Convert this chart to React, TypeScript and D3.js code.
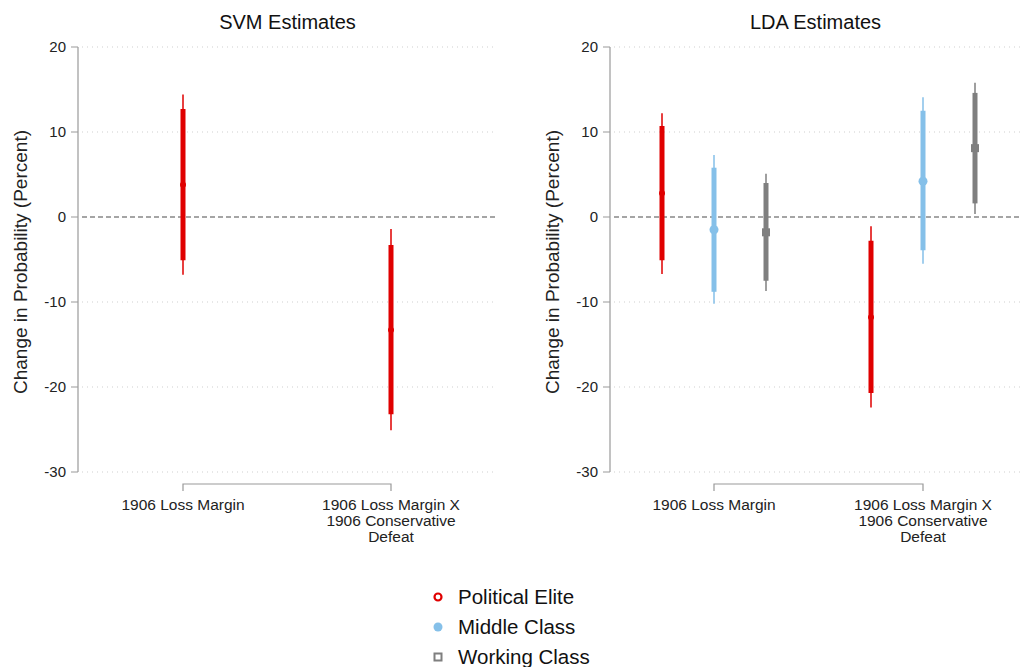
import React from "react";
import * as d3 from "d3";

const categories = ["1906 Loss Margin", "1906 Loss Margin X|1906 Conservative|Defeat"];
const seriesNames = ["Political Elite", "Middle Class", "Working Class"];
const seriesColors = ["#e00000", "#85c0e9", "#7f7f7f"];
const yTicks = [20, 10, 0, -10, -20, -30];

// SVM: political elite only  [estimate, lo95, hi95, lo90, hi90]
const svmElite = [
  [3.8, -6.8, 14.4, -5.1, 12.7],
  [-13.3, -25.1, -1.4, -23.2, -3.3],
];
// LDA
const ldaElite = [
  [2.8, -6.7, 12.2, -5.1, 10.7],
  [-11.8, -22.4, -1.1, -20.7, -2.8],
];
const ldaMiddle = [
  [-1.5, -10.2, 7.3, -8.8, 5.8],
  [4.2, -5.5, 14.1, -3.9, 12.5],
];
const ldaWorking = [
  [-1.8, -8.7, 5.1, -7.5, 4.0],
  [8.1, 0.35, 15.8, 1.6, 14.6],
];

const FONT = "Liberation Sans, Arial, sans-serif";

type Panel = {
  title: string;
  x0: number;
  axisX: number;
  right: number;
  cat: [number, number];
  series: { idx: number; data: number[][] }[];
  offset: number;
};

const panels: Panel[] = [
  { title: "SVM Estimates", x0: 0, axisX: 78, right: 496, cat: [183, 391], series: [{ idx: 0, data: svmElite }], offset: 0 },
  {
    title: "LDA Estimates",
    x0: 532,
    axisX: 610,
    right: 1020,
    cat: [714, 923],
    series: [
      { idx: 0, data: ldaElite },
      { idx: 1, data: ldaMiddle },
      { idx: 2, data: ldaWorking },
    ],
    offset: 52,
  },
];

const y = d3.scaleLinear().domain([-30, 20]).range([472, 47]);

function Marker({ idx, cx, cy, legend }: { idx: number; cx: number; cy: number; legend?: boolean }) {
  const c = seriesColors[idx];
  if (idx === 0) {
    return legend ? (
      <circle cx={cx} cy={cy} r={3.5} fill="white" stroke={c} strokeWidth={2.2} />
    ) : (
      <circle cx={cx} cy={cy} r={3} fill={c} />
    );
  }
  if (idx === 1) return <circle cx={cx} cy={cy} r={4.5} fill={c} />;
  return legend ? (
    <rect x={cx - 3.5} y={cy - 3.5} width={7} height={7} fill="white" stroke={c} strokeWidth={2} />
  ) : (
    <rect x={cx - 4} y={cy - 4} width={8} height={8} fill={c} />
  );
}

function PanelView({ p }: { p: Panel }) {
  const x = d3.scalePoint<string>().domain(categories).range(p.cat);
  const nS = p.series.length;
  return (
    <g>
      <text x={(p.axisX + p.right) / 2 + 0.5} y={29} textAnchor="middle" fontSize={20} fill="#111">
        {p.title}
      </text>
      <text
        transform={`translate(${p.x0 + 27},262) rotate(-90)`}
        textAnchor="middle"
        fontSize={19}
        fill="#222"
      >
        Change in Probability (Percent)
      </text>
      {yTicks.map((t) => (
        <g key={t}>
          <line
            x1={p.axisX + 4}
            x2={p.right}
            y1={y(t)}
            y2={y(t)}
            stroke={t === 0 ? "#888" : "#cfcfcf"}
            strokeWidth={t === 0 ? 1.5 : 1}
            strokeDasharray={t === 0 ? "5,3" : "1,4"}
          />
          <line x1={p.axisX - 7} x2={p.axisX} y1={y(t)} y2={y(t)} stroke="#999" />
          <text x={p.axisX - 12} y={y(t) + 5} textAnchor="end" fontSize={15} fill="#222">
            {t}
          </text>
        </g>
      ))}
      <line x1={p.axisX} x2={p.axisX} y1={y(20)} y2={y(-30)} stroke="#999" strokeWidth={1.2} />
      <path
        d={`M${x(categories[0])},491V484H${x(categories[1])}V491`}
        fill="none"
        stroke="#999"
        strokeWidth={1.2}
      />
      {categories.map((c) => (
        <text key={c} x={x(c)} textAnchor="middle" fontSize={15.5} fill="#222">
          {c.split("|").map((ln, i) => (
            <tspan key={i} x={x(c)} y={510 + i * 16}>
              {ln}
            </tspan>
          ))}
        </text>
      ))}
      {p.series.map((s, si) =>
        s.data.map((d, ci) => {
          const cx = (x(categories[ci]) as number) + (si - (nS - 1) / 2) * p.offset;
          const col = seriesColors[s.idx];
          return (
            <g key={`${si}-${ci}`}>
              <line x1={cx} x2={cx} y1={y(d[1])} y2={y(d[2])} stroke={col} strokeWidth={2} opacity={0.75} />
              <line x1={cx} x2={cx} y1={y(d[3])} y2={y(d[4])} stroke={col} strokeWidth={5} />
              <Marker idx={s.idx} cx={cx} cy={y(d[0])} />
            </g>
          );
        })
      )}
    </g>
  );
}

export default function App() {
  return (
    <svg width={1020} height={667} style={{ position: "absolute", left: 0, top: 0, fontFamily: FONT }}>
      <rect width={1020} height={667} fill="white" />
      {panels.map((p) => (
        <PanelView key={p.title} p={p} />
      ))}
      {seriesNames.map((n, i) => (
        <g key={n}>
          <Marker idx={i} cx={438} cy={597 + i * 30} legend />
          <text x={458} y={604 + i * 30} fontSize={20.5} fill="#111">
            {n}
          </text>
        </g>
      ))}
    </svg>
  );
}
